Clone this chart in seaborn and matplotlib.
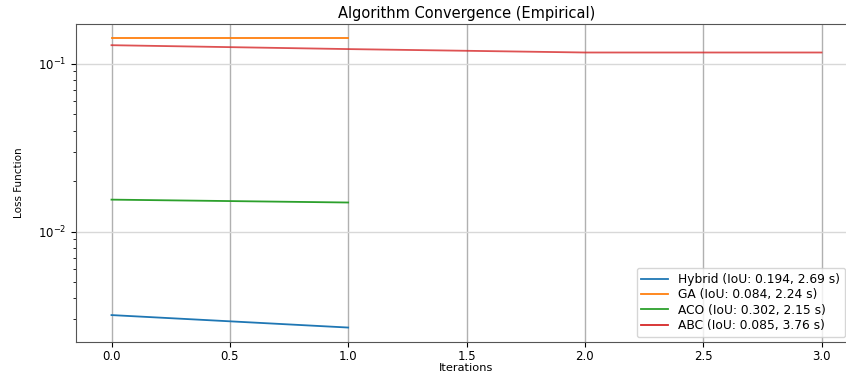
import matplotlib
matplotlib.use("Agg")
import matplotlib.pyplot as plt
import seaborn as sns
import pandas as pd
import numpy as np

# Data
hybrid_x = [0, 1]
hybrid_y = [0.00318, 0.00268]
ga_x = [0, 1]
ga_y = [0.1415, 0.1415]
aco_x = [0, 1]
aco_y = [0.0155, 0.0149]
abc_x = [0, 1, 2, 3]
abc_y = [0.129, 0.1223, 0.1167, 0.1167]
labels = ["Hybrid (IoU: 0.194, 2.69 s)", "GA (IoU: 0.084, 2.24 s)",
          "ACO (IoU: 0.302, 2.15 s)", "ABC (IoU: 0.085, 3.76 s)"]

rows = []
for lab, xs, ys in zip(labels, [hybrid_x, ga_x, aco_x, abc_x], [hybrid_y, ga_y, aco_y, abc_y]):
    for x, y in zip(xs, ys):
        rows.append({"Iterations": x, "Loss": y, "Algorithm": lab})
df = pd.DataFrame(rows)

plt.rcParams['font.family'] = ['DejaVu Sans']
fig = plt.figure(figsize=(8.46, 3.74), dpi=100)
ax = fig.add_axes([76/846, 1 - 342/374, (857 - 76)/846, (342 - 24)/374])

palette = ["#1f77b4", "#ff7f0e", "#2ca02c", "#d62728"]
sns.lineplot(data=df, x="Iterations", y="Loss", hue="Algorithm", palette=palette,
             ax=ax, linewidth=1.3, estimator=None, sort=False)
ax.lines[3].set_alpha(0.8)
ax.set_yscale("log")
ax.set_xticks([0, 0.5, 1, 1.5, 2, 2.5, 3])
ax.tick_params(labelsize=8.5)
ax.tick_params(axis="x", pad=2.5)
ax.set_title("Algorithm Convergence (Empirical)", fontsize=10.5, pad=4)
ax.set_xlabel("Iterations", fontsize=8.2, labelpad=0)
ax.set_ylabel("Loss Function", fontsize=7.5, labelpad=10)
ax.grid(axis="x", which="major", color="#b0b0b0", linewidth=1)
ax.grid(axis="y", which="major", color="#d8d8d8", linewidth=1)
for s in ax.spines.values():
    s.set_color("#555555")
leg = ax.legend(loc="lower right", fontsize=8.8, frameon=True, borderaxespad=0,
                bbox_to_anchor=(845/846, 37/374), bbox_transform=fig.transFigure,
                handlelength=2.2, labelspacing=0.2)
leg.set_title(None)
fig.savefig("out.png", dpi=100)
